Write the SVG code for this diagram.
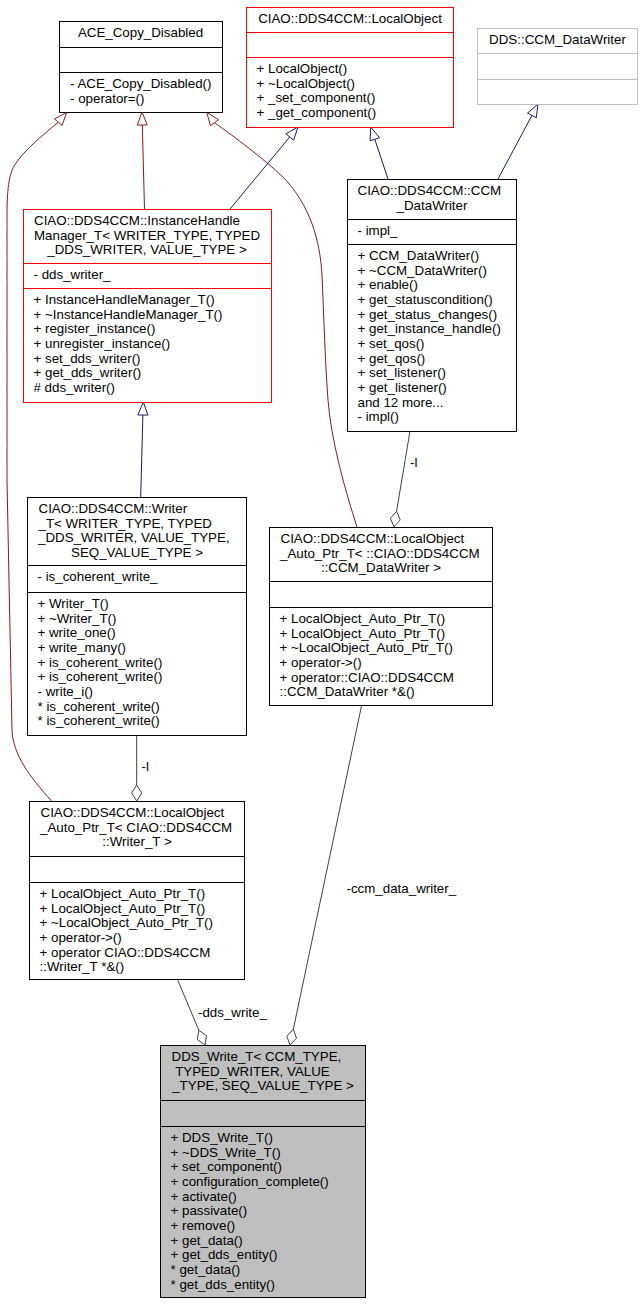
<svg xmlns="http://www.w3.org/2000/svg" width="643" height="1304" viewBox="0 0 643 1304">
<style>
.bg{fill:#fff}
.box{fill:#fff;stroke:#000;stroke-width:1}
.red{stroke:#f00}
.gray{stroke:#bfbfbf}
.filled{fill:#bfbfbf}
.sep{stroke:#000;stroke-width:1}
.sep.red{stroke:#f00}
.sep.gray{stroke:#bfbfbf}
text{font-family:"Liberation Sans",Arial,Helvetica,sans-serif;font-size:13.33px;fill:#000}
.c{text-anchor:middle}
.pub{stroke:#191970;fill:none;stroke-width:1}
.prot{stroke:#8b1a1a;fill:none;stroke-width:1}
.use{stroke:#404040;fill:none;stroke-width:1}
.headpub{fill:#fff;stroke:#191970}
.headprot{fill:#fff;stroke:#8b1a1a}
.headuse{fill:#fff;stroke:#404040}
</style>
<rect class="bg" x="0" y="0" width="643" height="1304"/>

<g id="connectors">
  <!-- inheritance: InstanceHandleManager -> ACE_Copy_Disabled -->
  <path class="prot" d="M144.5,209 L142.3,125"/>
  <polygon class="headprot" points="142,112 147.3,124.9 137.3,125.1"/>
  <!-- LocalObject_Auto_Ptr_T<Writer_T> -> ACE_Copy_Disabled -->
  <path class="prot" d="M51.5,801 C30,777 13,755 12,730 L7,480 C7,400 7,260 7,215 C7,190 9,175 14,166 C24,150 42,136 58.3,122.2"/>
  <polygon class="headprot" points="66.7,112.3 62.1,125.4 54.5,119"/>
  <!-- LocalObject_Auto_Ptr_T<CCM_DataWriter> -> ACE_Copy_Disabled -->
  <path class="prot" d="M357,527 C345,490 331,440 328,400 C325,360 324,320 322,275 C320,240 310,205 283,177 C265,160 235,137 214.5,122.7"/>
  <polygon class="headprot" points="206.7,112.3 218.5,119.7 210.5,125.7"/>
  <!-- InstanceHandleManager -> LocalObject -->
  <path class="pub" d="M230,209 L289.7,137"/>
  <polygon class="headpub" points="298,127 293.6,140.2 285.9,133.8"/>
  <!-- CCM_DataWriter -> LocalObject -->
  <path class="pub" d="M388,179 L374.8,139.3"/>
  <polygon class="headpub" points="370.7,127 379.5,137.7 370.1,140.9"/>
  <!-- CCM_DataWriter -> DDS::CCM_DataWriter -->
  <path class="pub" d="M498,179 L531.9,115.5"/>
  <polygon class="headpub" points="538,104 536.3,117.8 527.5,113.1"/>
  <!-- Writer_T -> InstanceHandleManager -->
  <path class="pub" d="M140.7,497 L142.9,415"/>
  <polygon class="headpub" points="143.3,402 147.9,415.1 137.9,414.9"/>
  <!-- usage: CCM_DataWriter -l-> Auto_Ptr CCM -->
  <path class="use" d="M410,431 L396.6,511.2"/>
  <polygon class="headuse" points="394,527 390.4,518.3 396.6,511.2 400.2,519.9"/>
  <text x="410" y="467">-l</text>
  <!-- usage: Writer_T -l-> Auto_Ptr Writer -->
  <path class="use" d="M136.7,735 L136.7,785"/>
  <polygon class="headuse" points="136.7,801 131.7,793 136.7,785 141.7,793"/>
  <text x="141.5" y="771">-l</text>
  <!-- usage: Auto_Ptr Writer -dds_write_-> DDS_Write_T -->
  <path class="use" d="M177.3,979 L198.8,1030.2"/>
  <polygon class="headuse" points="205,1045 197.3,1039.5 198.8,1030.2 206.5,1035.7"/>
  <text x="198" y="1017">-dds_write_</text>
  <!-- usage: Auto_Ptr CCM -ccm_data_writer_-> DDS_Write_T -->
  <path class="use" d="M361.7,705 L293.3,1029.3"/>
  <polygon class="headuse" points="290,1045 286.8,1036.2 293.3,1029.3 296.5,1038.2"/>
  <text x="346.5" y="893">-ccm_data_writer_</text>
</g>

<g id="ACE_Copy_Disabled">
  <rect class="box" x="59.5" y="21.5" width="163" height="91"/>
  <line class="sep" x1="59.5" y1="47.5" x2="222.5" y2="47.5"/>
  <line class="sep" x1="59.5" y1="72.5" x2="222.5" y2="72.5"/>
  <text class="c" x="140.5" y="37">ACE_Copy_Disabled</text>
  <text x="70" y="88">- ACE_Copy_Disabled()</text>
  <text x="70" y="102.7">- operator=()</text>
</g>

<g id="LocalObject">
  <rect class="box red" x="246.5" y="7.5" width="207" height="120"/>
  <line class="sep red" x1="246.5" y1="32.5" x2="453.5" y2="32.5"/>
  <line class="sep red" x1="246.5" y1="57.5" x2="453.5" y2="57.5"/>
  <text class="c" x="350" y="23">CIAO::DDS4CCM::LocalObject</text>
  <text x="256.5" y="73">+ LocalObject()</text>
  <text x="256.5" y="87.7">+ ~LocalObject()</text>
  <text x="256.5" y="102.3">+ _set_component()</text>
  <text x="256.5" y="117">+ _get_component()</text>
</g>

<g id="DDS_CCM_DataWriter">
  <rect class="box gray" x="477.5" y="28.5" width="160" height="76"/>
  <line class="sep gray" x1="477.5" y1="53.5" x2="637.5" y2="53.5"/>
  <line class="sep gray" x1="477.5" y1="79.5" x2="637.5" y2="79.5"/>
  <text class="c" x="557.5" y="44">DDS::CCM_DataWriter</text>
</g>

<g id="InstanceHandleManager_T">
  <rect class="box red" x="23.5" y="209.5" width="248" height="193"/>
  <line class="sep red" x1="23.5" y1="263.5" x2="271.5" y2="263.5"/>
  <line class="sep red" x1="23.5" y1="288.5" x2="271.5" y2="288.5"/>
  <text x="34" y="225">CIAO::DDS4CCM::InstanceHandle</text>
  <text x="34" y="239.7">Manager_T&lt; WRITER_TYPE, TYPED</text>
  <text class="c" x="147" y="254.3">_DDS_WRITER, VALUE_TYPE &gt;</text>
  <text x="33.5" y="279">- dds_writer_</text>
  <text x="33.5" y="304">+ InstanceHandleManager_T()</text>
  <text x="33.5" y="318.7">+ ~InstanceHandleManager_T()</text>
  <text x="33.5" y="333.3">+ register_instance()</text>
  <text x="33.5" y="348">+ unregister_instance()</text>
  <text x="33.5" y="362.7">+ set_dds_writer()</text>
  <text x="33.5" y="377.3">+ get_dds_writer()</text>
  <text x="33.5" y="392"># dds_writer()</text>
</g>

<g id="CCM_DataWriter">
  <rect class="box" x="347.5" y="179.5" width="169" height="252"/>
  <line class="sep" x1="347.5" y1="219.5" x2="516.5" y2="219.5"/>
  <line class="sep" x1="347.5" y1="244.5" x2="516.5" y2="244.5"/>
  <text x="357.5" y="195">CIAO::DDS4CCM::CCM</text>
  <text class="c" x="432" y="209.7">_DataWriter</text>
  <text x="357.5" y="235">- impl_</text>
  <text x="357.5" y="260">+ CCM_DataWriter()</text>
  <text x="357.5" y="274.7">+ ~CCM_DataWriter()</text>
  <text x="357.5" y="289.3">+ enable()</text>
  <text x="357.5" y="304">+ get_statuscondition()</text>
  <text x="357.5" y="318.7">+ get_status_changes()</text>
  <text x="357.5" y="333.3">+ get_instance_handle()</text>
  <text x="357.5" y="348">+ set_qos()</text>
  <text x="357.5" y="362.7">+ get_qos()</text>
  <text x="357.5" y="377.3">+ set_listener()</text>
  <text x="357.5" y="392">+ get_listener()</text>
  <text x="357.5" y="406.7">and 12 more...</text>
  <text x="357.5" y="421.3">- impl()</text>
</g>

<g id="Writer_T">
  <rect class="box" x="27.5" y="497.5" width="219" height="238"/>
  <line class="sep" x1="27.5" y1="565.5" x2="246.5" y2="565.5"/>
  <line class="sep" x1="27.5" y1="592.5" x2="246.5" y2="592.5"/>
  <text x="38.5" y="513">CIAO::DDS4CCM::Writer</text>
  <text x="38.5" y="527.7">_T&lt; WRITER_TYPE, TYPED</text>
  <text x="38" y="542.3">_DDS_WRITER, VALUE_TYPE,</text>
  <text class="c" x="137" y="557">SEQ_VALUE_TYPE &gt;</text>
  <text x="37.5" y="581">- is_coherent_write_</text>
  <text x="37.5" y="608">+ Writer_T()</text>
  <text x="37.5" y="622.7">+ ~Writer_T()</text>
  <text x="37.5" y="637.3">+ write_one()</text>
  <text x="37.5" y="652">+ write_many()</text>
  <text x="37.5" y="666.7">+ is_coherent_write()</text>
  <text x="37.5" y="681.3">+ is_coherent_write()</text>
  <text x="37.5" y="696">- write_i()</text>
  <text x="37.5" y="710.7">* is_coherent_write()</text>
  <text x="37.5" y="725.3">* is_coherent_write()</text>
</g>

<g id="LocalObject_Auto_Ptr_T_CCM_DataWriter">
  <rect class="box" x="269.5" y="527.5" width="223" height="178"/>
  <line class="sep" x1="269.5" y1="581.5" x2="492.5" y2="581.5"/>
  <line class="sep" x1="269.5" y1="607.5" x2="492.5" y2="607.5"/>
  <text x="280.5" y="543">CIAO::DDS4CCM::LocalObject</text>
  <text x="280" y="557.7">_Auto_Ptr_T&lt; ::CIAO::DDS4CCM</text>
  <text class="c" x="381" y="572.3">::CCM_DataWriter &gt;</text>
  <text x="279.5" y="623">+ LocalObject_Auto_Ptr_T()</text>
  <text x="279.5" y="637.7">+ LocalObject_Auto_Ptr_T()</text>
  <text x="279.5" y="652.3">+ ~LocalObject_Auto_Ptr_T()</text>
  <text x="279.5" y="667">+ operator-&gt;()</text>
  <text x="279.5" y="681.7">+ operator::CIAO::DDS4CCM</text>
  <text x="279.5" y="696.3">::CCM_DataWriter *&amp;()</text>
</g>

<g id="LocalObject_Auto_Ptr_T_Writer_T">
  <rect class="box" x="29.5" y="801.5" width="215" height="178"/>
  <line class="sep" x1="29.5" y1="856.5" x2="244.5" y2="856.5"/>
  <line class="sep" x1="29.5" y1="882.5" x2="244.5" y2="882.5"/>
  <text x="40.5" y="817">CIAO::DDS4CCM::LocalObject</text>
  <text x="40" y="831.7">_Auto_Ptr_T&lt; CIAO::DDS4CCM</text>
  <text class="c" x="137" y="846.3">::Writer_T &gt;</text>
  <text x="39.5" y="898">+ LocalObject_Auto_Ptr_T()</text>
  <text x="39.5" y="912.7">+ LocalObject_Auto_Ptr_T()</text>
  <text x="39.5" y="927.3">+ ~LocalObject_Auto_Ptr_T()</text>
  <text x="39.5" y="942">+ operator-&gt;()</text>
  <text x="39.5" y="956.7">+ operator CIAO::DDS4CCM</text>
  <text x="39.5" y="971.3">::Writer_T *&amp;()</text>
</g>

<g id="DDS_Write_T">
  <rect class="box filled" x="160.5" y="1045.5" width="205" height="252"/>
  <line class="sep" x1="160.5" y1="1100.5" x2="365.5" y2="1100.5"/>
  <line class="sep" x1="160.5" y1="1126.5" x2="365.5" y2="1126.5"/>
  <text x="171.5" y="1061">DDS_Write_T&lt; CCM_TYPE,</text>
  <text x="175.2" y="1075.7">TYPED_WRITER, VALUE</text>
  <text class="c" x="263" y="1090.3">_TYPE, SEQ_VALUE_TYPE &gt;</text>
  <text x="170.5" y="1142">+ DDS_Write_T()</text>
  <text x="170.5" y="1156.7">+ ~DDS_Write_T()</text>
  <text x="170.5" y="1171.3">+ set_component()</text>
  <text x="170.5" y="1186">+ configuration_complete()</text>
  <text x="170.5" y="1200.7">+ activate()</text>
  <text x="170.5" y="1215.3">+ passivate()</text>
  <text x="170.5" y="1230">+ remove()</text>
  <text x="170.5" y="1244.7">+ get_data()</text>
  <text x="170.5" y="1259.3">+ get_dds_entity()</text>
  <text x="170.5" y="1274">* get_data()</text>
  <text x="170.5" y="1288.7">* get_dds_entity()</text>
</g>
</svg>
